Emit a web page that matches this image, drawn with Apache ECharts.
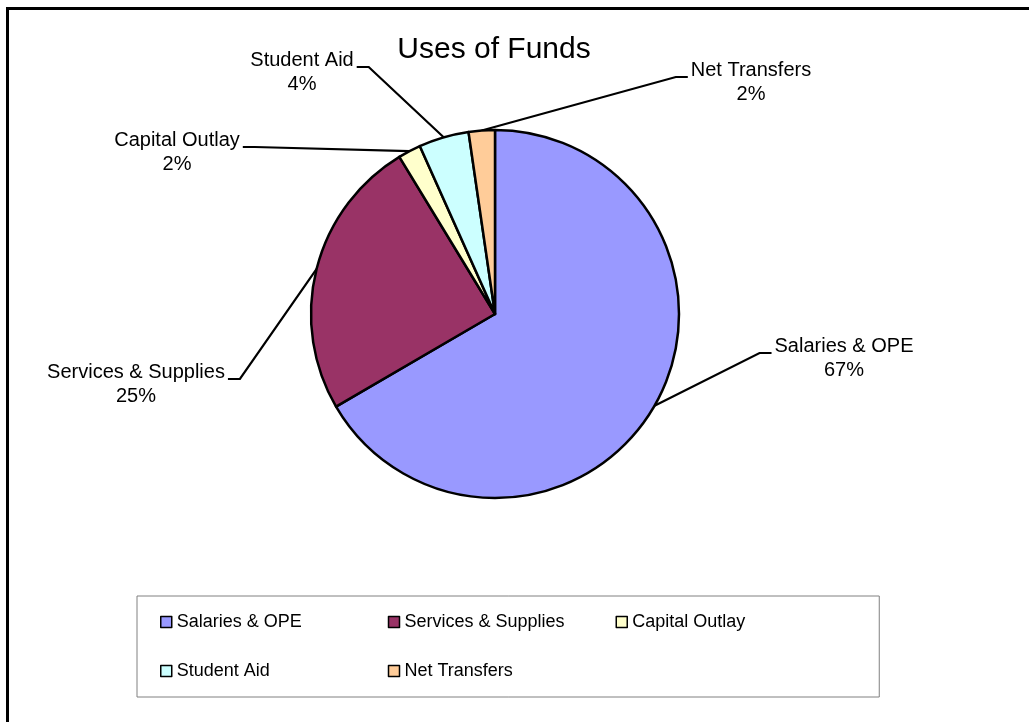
<!DOCTYPE html>
<html>
<head>
<meta charset="utf-8">
<script src="https://cdn.jsdelivr.net/npm/echarts@6/dist/echarts.min.js"></script>
<style>
html,body{margin:0;padding:0;background:#fff;}
#chart{width:1029px;height:722px;}
</style>
</head>
<body>
<div id="chart"></div>
<script>
// ---- data ----
const categories = ['Salaries & OPE', 'Services & Supplies', 'Capital Outlay', 'Student Aid', 'Net Transfers'];
const values = [66.6, 24.7, 2.0, 4.4, 2.3];
const colors = ['#9999FF', '#993366', '#FFFFCC', '#CCFFFF', '#FFCC99'];
const titleText = 'Uses of Funds';

// ---- label anchor layout (text centre x, leader-line y) ----
const labelAnchors = [[844, 353], [136, 379], [177, 147], [302, 67], [751, 77]];
const LABEL_PAD_TOP = 10, LABEL_LH = 24;
const LABEL_HALF = (LABEL_PAD_TOP + 2 * LABEL_LH) / 2;

const chart = echarts.init(document.getElementById('chart'), null, {renderer: 'canvas'});
const FONT = '"Liberation Sans", Arial, sans-serif';

const option = {
  backgroundColor: '#ffffff',
  animation: false,
  color: colors,
  title: {
    text: titleText,
    left: 489, top: 30,
    textAlign: 'center',
    textStyle: {fontFamily: FONT, fontSize: 30, fontWeight: 'normal', color: '#000'}
  },
  graphic: [{
    type: 'rect', silent: true,
    shape: {x: 7.5, y: 8.5, width: 1100, height: 800},
    style: {fill: 'none', stroke: '#000', lineWidth: 3}
  }],
  legend: {
    data: categories,
    left: 137, top: 596,
    width: 680,
    orient: 'horizontal',
    padding: [17, 67, 17, 23],
    itemGap: 31,
    itemWidth: 11, itemHeight: 11,
    icon: 'rect',
    borderColor: '#808080', borderWidth: 1,
    align: 'left',
    itemStyle: {borderColor: '#000', borderWidth: 1.5},
    textStyle: {fontFamily: FONT, fontSize: 18, color: '#000', width: 180, lineHeight: 17, overflow: 'truncate'}
  },
  series: [{
    type: 'pie',
    center: [495, 314],
    radius: [0, 184],
    startAngle: 90,
    clockwise: true,
    data: categories.map((c, i) => ({name: c, value: values[i]})),
    itemStyle: {borderColor: '#000', borderWidth: 2.5},
    emphasis: {disabled: true},
    label: {
      show: true,
      position: 'outside',
      fontFamily: FONT, fontSize: 20, color: '#000',
      lineHeight: LABEL_LH,
      padding: [LABEL_PAD_TOP, 3, 0, 3],
      formatter: p => p.name + '\n' + Math.round(p.percent) + '%'
    },
    labelLine: {
      show: true, length: 10, length2: 12, smooth: false,
      minTurnAngle: 30,
      lineStyle: {color: '#000', width: 2.2}
    },
    labelLayout: function (params) {
      const a = labelAnchors[params.dataIndex];
      return {x: a[0], y: a[1] - LABEL_HALF, align: 'center', verticalAlign: 'top'};
    }
  }]
};
chart.setOption(option);
</script>
</body>
</html>
